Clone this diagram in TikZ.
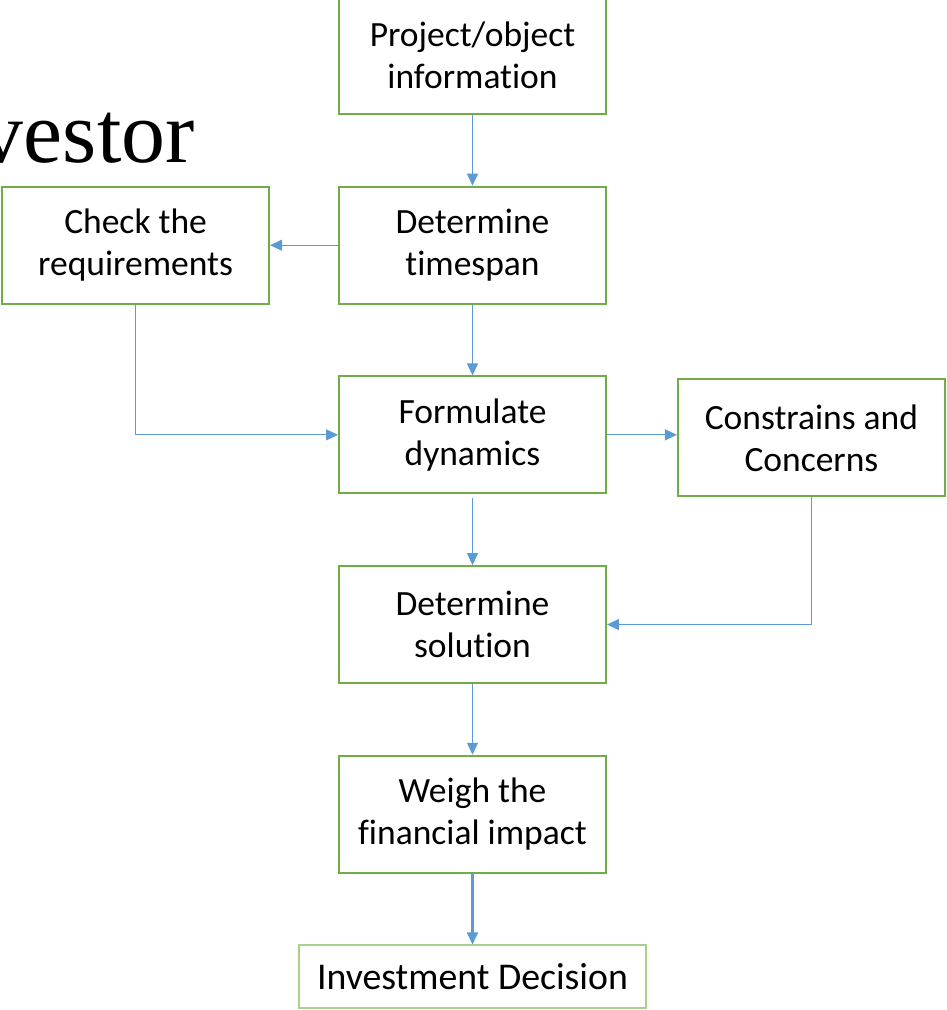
\documentclass[tikz,border=0pt]{standalone}
\usepackage{fontspec}
\setmainfont{Carlito}[RawFeature={-liga;-clig;-dlig;-calt}]
\newfontfamily\headfont{Liberation Serif}
\usetikzlibrary{arrows.meta,positioning}

\definecolor{boxgreen}{HTML}{70AD47}
\definecolor{palegreen}{HTML}{A9D18E}
\definecolor{linkblue}{HTML}{5B9BD5}

\begin{document}
\begin{tikzpicture}[
			font=\fontsize{20.2}{23.9}\selectfont,
			node distance=1.415cm,
			stepbox/.style={
				rectangle,draw=boxgreen,line width=1.1pt,align=center,
				minimum width=5.34cm,
				minimum height=2.34cm,
				inner sep=2pt
			},
			endbox/.style={
				rectangle,draw=palegreen,line width=0.9pt,align=center,
				minimum width=6.95cm,
				minimum height=1.25cm,
				inner sep=2pt,
				font=\fontsize{21.5}{24}\selectfont
			},
			arrow/.style={-{Triangle[length=2.4mm,width=2.2mm]},draw=linkblue,line width=0.6pt},
			thickarrow/.style={arrow,line width=1.3pt}
			]
			\clip (0,0) rectangle (18.94,-20.2);
			
			% heading, partly cut off at the left edge
			\node[anchor=base east,font=\headfont\fontsize{50}{50}\selectfont,inner sep=0pt]
			(heading) at (3.9,-3.24) {Investor};
			
			\node[stepbox] (project) at (9.45,-1.11)
			{Project/object\\information};
			
			\node[stepbox,below=of project] (timespan)
			{Determine\\timespan};
			
			\node[stepbox,left=1.36cm of timespan] (requirements)
			{Check the\\requirements};
			
			\node[stepbox,below=of timespan] (dynamics)
			{Formulate\\dynamics};
			
			\node[stepbox,right=1.40cm of dynamics,yshift=-0.06cm] (constraints)
			{Constrains and\\Concerns};
			
			\node[stepbox,below=of dynamics] (solution)
			{Determine\\solution};
			
			\node[stepbox,below=of solution] (impact)
			{Weigh the\\financial impact};
			
			\node[endbox,below=of impact] (decision)
			{Investment Decision};
			
			\draw[arrow] (project) -- (timespan);
			\draw[arrow] (timespan) -- (requirements);
			\draw[arrow] (timespan) -- (dynamics);
			\draw[arrow] (requirements.south) |- (dynamics.west);
			\draw[arrow] (dynamics.east) -- (dynamics.east -| constraints.west);
			\draw[arrow] ([yshift=-0.08cm]dynamics.south) -- (solution);
			\draw[arrow] (constraints.south) |- (solution.east);
			\draw[arrow] (solution) -- (impact);
			\draw[thickarrow] (impact) -- (decision);
			
		\end{tikzpicture}
\end{document}
